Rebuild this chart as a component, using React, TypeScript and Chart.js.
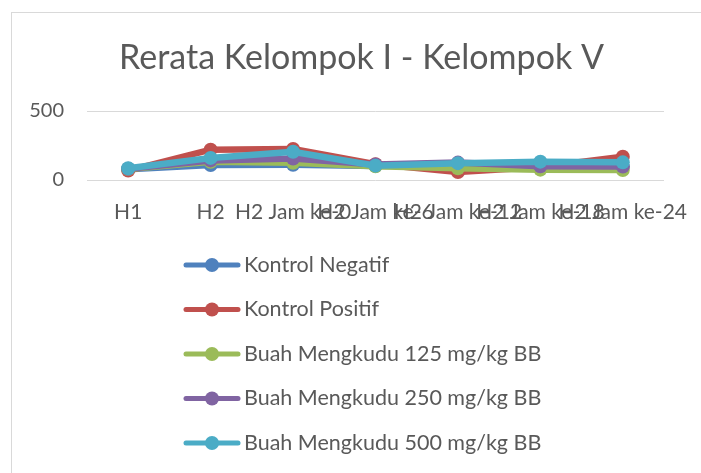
import React, { useEffect, useRef } from 'react';
import { Chart, registerables } from 'chart.js';

Chart.register(...registerables);

const categories = ['H1', 'H2', 'H2 Jam ke-0', 'H2 Jam ke-6', 'H2 Jam ke-12', 'H2 Jam ke-18', 'H2 Jam ke-24'];
const seriesNames = [
  'Kontrol Negatif',
  'Kontrol Positif',
  'Buah Mengkudu 125 mg/kg BB',
  'Buah Mengkudu 250 mg/kg BB',
  'Buah Mengkudu 500 mg/kg BB',
];
const kontrolNegatif = [78, 108, 110, 102, 105, 98, 96];
const kontrolPositif = [68, 220, 225, 115, 58, 95, 168];
const mengkudu125 = [80, 132, 125, 100, 85, 75, 72];
const mengkudu250 = [82, 142, 155, 112, 126, 100, 97];
const mengkudu500 = [85, 160, 205, 104, 122, 133, 128];
const yTicks = [0, 500];
const chartTitle = 'Rerata Kelompok I - Kelompok V';

const seriesValues = [kontrolNegatif, kontrolPositif, mengkudu125, mengkudu250, mengkudu500];
const seriesColors = ['#4F81BD', '#C0504D', '#9BBB59', '#8064A2', '#4BACC6'];

const FONT = 'Lato';
const TEXT = '#595959';

export default function App() {
  const ref = useRef<HTMLCanvasElement | null>(null);

  useEffect(() => {
    if (!ref.current) return;

    const framePlugin = {
      id: 'frame',
      beforeDraw(chart: any) {
        const ctx = chart.ctx;
        ctx.save();
        ctx.fillStyle = '#ffffff';
        ctx.fillRect(0, 0, chart.width, chart.height);
        ctx.strokeStyle = '#D9D9D9';
        ctx.lineWidth = 1;
        ctx.strokeRect(11.5, 12.5, chart.width + 20, chart.height + 20);
        ctx.fillStyle = TEXT;
        ctx.font = `34px ${FONT}`;
        ctx.textAlign = 'center';
        ctx.textBaseline = 'middle';
        ctx.fillText(chartTitle, 361.5, 58);
        ctx.restore();
      },
    };

    const legendPlugin = {
      id: 'vlegend',
      afterDraw(chart: any) {
        const ctx = chart.ctx;
        ctx.save();
        chart.data.datasets.forEach((ds: any, i: number) => {
          const y = 265 + i * 44.5;
          ctx.strokeStyle = ds.borderColor;
          ctx.lineWidth = 5;
          ctx.lineCap = 'round';
          ctx.beginPath();
          ctx.moveTo(186, y);
          ctx.lineTo(238, y);
          ctx.stroke();
          ctx.fillStyle = ds.borderColor;
          ctx.beginPath();
          ctx.arc(212, y, 7, 0, Math.PI * 2);
          ctx.fill();
          ctx.fillStyle = TEXT;
          ctx.font = `21.5px ${FONT}`;
          ctx.textBaseline = 'middle';
          ctx.textAlign = 'left';
          ctx.fillText(ds.label, 244, y);
        });
        ctx.restore();
      },
    };

    const chart = new Chart(ref.current, {
      type: 'line',
      data: {
        labels: categories,
        datasets: seriesNames.map((name, i) => ({
          label: name,
          data: seriesValues[i],
          borderColor: seriesColors[i],
          backgroundColor: seriesColors[i],
          pointBackgroundColor: seriesColors[i],
          pointBorderColor: seriesColors[i],
          pointBorderWidth: 0,
          pointRadius: 7,
          borderWidth: 6.5,
          tension: 0,
          order: seriesNames.length - 1 - i,
        })),
      },
      options: {
        animation: false,
        responsive: false,
        devicePixelRatio: 1,
        layout: { padding: { left: 0, right: 37, top: 111, bottom: 233 } },
        plugins: {
          legend: { display: false },
          tooltip: { enabled: false },
          title: { display: false },
        },
        scales: {
          x: {
            type: 'category',
            offset: true,
            grid: { display: false, drawTicks: false, offset: true },
            border: { display: false },
            ticks: {
              autoSkip: false,
              maxRotation: 0,
              minRotation: 0,
              padding: 20,
              color: TEXT,
              font: { family: FONT, size: 21 },
            },
            afterFit(scale: any) {
              scale.height = 60;
              scale.paddingLeft = 0;
              scale.paddingRight = 0;
            },
          },
          y: {
            min: 0,
            max: 500,
            afterBuildTicks(scale: any) {
              scale.ticks = yTicks.map((v) => ({ value: v }));
            },
            grid: { color: '#D9D9D9', lineWidth: 1, drawTicks: false },
            border: { display: false },
            ticks: {
              padding: 23,
              color: TEXT,
              font: { family: FONT, size: 20 },
            },
            afterFit(scale: any) {
              scale.width = 87;
            },
          },
        },
      },
      plugins: [framePlugin, legendPlugin],
    });

    return () => chart.destroy();
  }, []);

  return (
    <canvas
      ref={ref}
      width={701}
      height={473}
      style={{ position: 'fixed', left: 0, top: 0, width: 701, height: 473 }}
    />
  );
}
